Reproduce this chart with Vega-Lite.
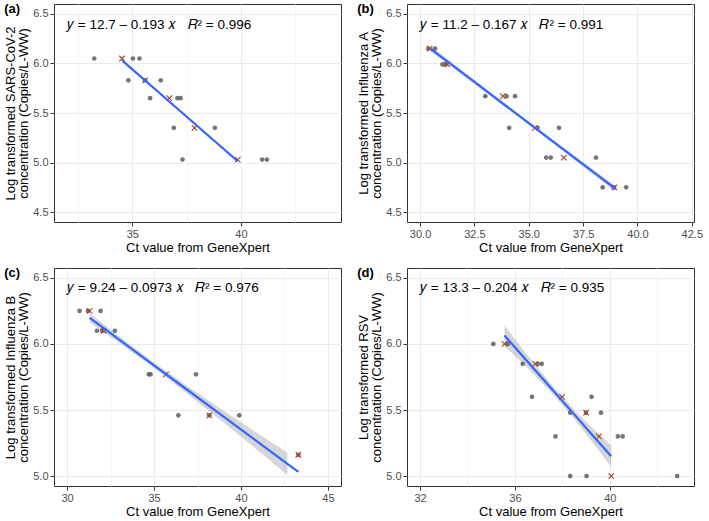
{
  "$schema": "https://vega.github.io/schema/vega-lite/v6.json",
  "background": "white",
  "padding": {"left": 3, "top": 2, "right": 0, "bottom": 0},
  "config": {
    "font": "Liberation Sans",
    "view": {"stroke": "#333333", "strokeWidth": 1},
    "axis": {
      "domain": false,
      "labelFont": "Liberation Sans",
      "labelFontSize": 11,
      "labelColor": "#4D4D4D",
      "labelPadding": 2,
      "tickColor": "#333333",
      "tickSize": 4,
      "gridColor": "#EBEBEB",
      "titleFont": "Liberation Sans",
      "titleFontSize": 13,
      "titleLineHeight": 13.5,
      "titleFontWeight": "normal",
      "titleColor": "#000000",
      "titlePadding": 2
    },
    "title": {"font": "Liberation Sans", "fontSize": 13, "fontWeight": "bold", "color": "#000000"}
  },
  "datasets": {
    "pts": [
      {"panel": "a", "type": "s", "ct": 33.25, "conc": 6.05},
      {"panel": "a", "type": "s", "ct": 35.03, "conc": 6.05},
      {"panel": "a", "type": "s", "ct": 35.33, "conc": 6.05},
      {"panel": "a", "type": "s", "ct": 34.82, "conc": 5.83},
      {"panel": "a", "type": "s", "ct": 35.59, "conc": 5.83},
      {"panel": "a", "type": "s", "ct": 36.31, "conc": 5.83},
      {"panel": "a", "type": "s", "ct": 35.82, "conc": 5.65},
      {"panel": "a", "type": "s", "ct": 37.08, "conc": 5.65},
      {"panel": "a", "type": "s", "ct": 37.22, "conc": 5.65},
      {"panel": "a", "type": "s", "ct": 36.91, "conc": 5.35},
      {"panel": "a", "type": "s", "ct": 38.8, "conc": 5.35},
      {"panel": "a", "type": "s", "ct": 37.31, "conc": 5.03},
      {"panel": "a", "type": "s", "ct": 40.97, "conc": 5.03},
      {"panel": "a", "type": "s", "ct": 41.19, "conc": 5.03},
      {"panel": "a", "type": "m", "ct": 34.53, "conc": 6.05},
      {"panel": "a", "type": "m", "ct": 35.59, "conc": 5.83},
      {"panel": "a", "type": "m", "ct": 36.7, "conc": 5.65},
      {"panel": "a", "type": "m", "ct": 37.86, "conc": 5.35},
      {"panel": "a", "type": "m", "ct": 39.85, "conc": 5.03},
      {"panel": "b", "type": "s", "ct": 30.38, "conc": 6.15},
      {"panel": "b", "type": "s", "ct": 30.69, "conc": 6.15},
      {"panel": "b", "type": "s", "ct": 31.03, "conc": 5.99},
      {"panel": "b", "type": "s", "ct": 31.18, "conc": 5.99},
      {"panel": "b", "type": "s", "ct": 33.0, "conc": 5.67},
      {"panel": "b", "type": "s", "ct": 33.98, "conc": 5.67},
      {"panel": "b", "type": "s", "ct": 34.37, "conc": 5.67},
      {"panel": "b", "type": "s", "ct": 34.1, "conc": 5.35},
      {"panel": "b", "type": "s", "ct": 35.41, "conc": 5.35},
      {"panel": "b", "type": "s", "ct": 36.39, "conc": 5.35},
      {"panel": "b", "type": "s", "ct": 35.8, "conc": 5.05},
      {"panel": "b", "type": "s", "ct": 36.01, "conc": 5.05},
      {"panel": "b", "type": "s", "ct": 38.09, "conc": 5.05},
      {"panel": "b", "type": "s", "ct": 38.4, "conc": 4.75},
      {"panel": "b", "type": "s", "ct": 38.92, "conc": 4.75},
      {"panel": "b", "type": "s", "ct": 39.48, "conc": 4.75},
      {"panel": "b", "type": "m", "ct": 30.44, "conc": 6.15},
      {"panel": "b", "type": "m", "ct": 31.25, "conc": 5.99},
      {"panel": "b", "type": "m", "ct": 33.81, "conc": 5.67},
      {"panel": "b", "type": "m", "ct": 35.28, "conc": 5.35},
      {"panel": "b", "type": "m", "ct": 36.61, "conc": 5.05},
      {"panel": "b", "type": "m", "ct": 38.94, "conc": 4.75},
      {"panel": "c", "type": "s", "ct": 30.72, "conc": 6.25},
      {"panel": "c", "type": "s", "ct": 31.2, "conc": 6.25},
      {"panel": "c", "type": "s", "ct": 31.93, "conc": 6.25},
      {"panel": "c", "type": "s", "ct": 31.72, "conc": 6.1},
      {"panel": "c", "type": "s", "ct": 32.02, "conc": 6.1},
      {"panel": "c", "type": "s", "ct": 32.75, "conc": 6.1},
      {"panel": "c", "type": "s", "ct": 34.7, "conc": 5.77},
      {"panel": "c", "type": "s", "ct": 34.8, "conc": 5.77},
      {"panel": "c", "type": "s", "ct": 37.41, "conc": 5.77},
      {"panel": "c", "type": "s", "ct": 36.4, "conc": 5.46},
      {"panel": "c", "type": "s", "ct": 38.18, "conc": 5.46},
      {"panel": "c", "type": "s", "ct": 39.9, "conc": 5.46},
      {"panel": "c", "type": "s", "ct": 43.3, "conc": 5.16},
      {"panel": "c", "type": "m", "ct": 31.3, "conc": 6.25},
      {"panel": "c", "type": "m", "ct": 32.1, "conc": 6.1},
      {"panel": "c", "type": "m", "ct": 35.69, "conc": 5.77},
      {"panel": "c", "type": "m", "ct": 38.18, "conc": 5.46},
      {"panel": "c", "type": "m", "ct": 43.3, "conc": 5.16},
      {"panel": "d", "type": "s", "ct": 35.09, "conc": 6.0},
      {"panel": "d", "type": "s", "ct": 35.7, "conc": 6.0},
      {"panel": "d", "type": "s", "ct": 36.33, "conc": 5.85},
      {"panel": "d", "type": "s", "ct": 36.96, "conc": 5.85},
      {"panel": "d", "type": "s", "ct": 37.13, "conc": 5.85},
      {"panel": "d", "type": "s", "ct": 36.72, "conc": 5.6},
      {"panel": "d", "type": "s", "ct": 39.23, "conc": 5.6},
      {"panel": "d", "type": "s", "ct": 38.33, "conc": 5.48},
      {"panel": "d", "type": "s", "ct": 39.0, "conc": 5.48},
      {"panel": "d", "type": "s", "ct": 39.63, "conc": 5.48},
      {"panel": "d", "type": "s", "ct": 37.71, "conc": 5.3},
      {"panel": "d", "type": "s", "ct": 40.34, "conc": 5.3},
      {"panel": "d", "type": "s", "ct": 40.54, "conc": 5.3},
      {"panel": "d", "type": "s", "ct": 38.33, "conc": 5.0},
      {"panel": "d", "type": "s", "ct": 39.02, "conc": 5.0},
      {"panel": "d", "type": "s", "ct": 42.84, "conc": 5.0},
      {"panel": "d", "type": "m", "ct": 35.56, "conc": 6.0},
      {"panel": "d", "type": "m", "ct": 36.86, "conc": 5.85},
      {"panel": "d", "type": "m", "ct": 37.99, "conc": 5.6},
      {"panel": "d", "type": "m", "ct": 39.0, "conc": 5.48},
      {"panel": "d", "type": "m", "ct": 39.54, "conc": 5.3},
      {"panel": "d", "type": "m", "ct": 40.06, "conc": 5.0}
    ],
    "fit": [
      {"panel": "a", "ct": 34.53, "conc": 6.031, "lo": 6.019, "hi": 6.043},
      {"panel": "a", "ct": 37.2, "conc": 5.52, "lo": 5.513, "hi": 5.527},
      {"panel": "a", "ct": 39.85, "conc": 5.013, "lo": 5.001, "hi": 5.025},
      {"panel": "b", "ct": 30.49, "conc": 6.147, "lo": 6.117, "hi": 6.177},
      {"panel": "b", "ct": 32.5, "conc": 5.813, "lo": 5.793, "hi": 5.833},
      {"panel": "b", "ct": 34.5, "conc": 5.48, "lo": 5.466, "hi": 5.494},
      {"panel": "b", "ct": 36.5, "conc": 5.148, "lo": 5.13, "hi": 5.166},
      {"panel": "b", "ct": 38.98, "conc": 4.736, "lo": 4.706, "hi": 4.766},
      {"panel": "c", "ct": 31.3, "conc": 6.198, "lo": 6.163, "hi": 6.233},
      {"panel": "c", "ct": 33.0, "conc": 6.033, "lo": 6.008, "hi": 6.058},
      {"panel": "c", "ct": 35.0, "conc": 5.838, "lo": 5.816, "hi": 5.86},
      {"panel": "c", "ct": 37.0, "conc": 5.644, "lo": 5.614, "hi": 5.674},
      {"panel": "c", "ct": 39.0, "conc": 5.45, "lo": 5.405, "hi": 5.495},
      {"panel": "c", "ct": 41.0, "conc": 5.255, "lo": 5.19, "hi": 5.32},
      {"panel": "c", "ct": 42.67, "conc": 5.093, "lo": 5.008, "hi": 5.178},
      {"panel": "c", "ct": 43.3, "conc": 5.032, "lo": null, "hi": null},
      {"panel": "d", "ct": 35.56, "conc": 6.064, "lo": 5.986, "hi": 6.142},
      {"panel": "d", "ct": 36.5, "conc": 5.873, "lo": 5.823, "hi": 5.923},
      {"panel": "d", "ct": 37.5, "conc": 5.67, "lo": 5.638, "hi": 5.702},
      {"panel": "d", "ct": 38.5, "conc": 5.467, "lo": 5.432, "hi": 5.502},
      {"panel": "d", "ct": 39.3, "conc": 5.304, "lo": 5.249, "hi": 5.359},
      {"panel": "d", "ct": 40.06, "conc": 5.15, "lo": 5.068, "hi": 5.232}
    ],
    "eqs": [
      {"panel": "a", "eq": "𝑦 = 12.7 – 0.193 𝑥\u00a0\u00a0\u00a0𝑅² = 0.996"},
      {"panel": "b", "eq": "𝑦 = 11.2 – 0.167 𝑥\u00a0\u00a0\u00a0𝑅² = 0.991"},
      {"panel": "c", "eq": "𝑦 = 9.24 – 0.0973 𝑥\u00a0\u00a0\u00a0𝑅² = 0.976"},
      {"panel": "d", "eq": "𝑦 = 13.3 – 0.204 𝑥\u00a0\u00a0\u00a0𝑅² = 0.935"}
    ]
  },
  "columns": 2,
  "spacing": {"row": 46, "column": 66},
  "bounds": "flush",
  "concat": [
    {
      "title": {"text": "(a)", "anchor": "start", "frame": "bounds", "baseline": "top", "offset": 0, "dx": 0, "dy": 12},
      "width": 287, "height": 218,
      "layer": [
        {
          "encoding": {
            "x": {"field": "ct", "type": "quantitative", "title": "Ct value from GeneXpert",
              "scale": {"domain": [31.4, 44.6], "nice": false, "zero": false},
              "axis": {"values": [32.5, 35, 37.5, 40, 42.5],
                "labelExpr": "datum.value % 5 != 0 ? '' : format(datum.value, 'd')",
                "gridColor": {"condition": {"test": "datum.value % 5 != 0", "value": "#F4F4F4"}, "value": "#EBEBEB"},
                "tickOpacity": {"condition": {"test": "datum.value % 5 != 0", "value": 0}, "value": 1}}},
            "y": {"field": "conc", "type": "quantitative", "title": ["Log transformed SARS-CoV-2", "concentration (Copies/L-WW)"],
              "scale": {"domain": [4.4, 6.6], "nice": false, "zero": false},
              "axis": {"values": [4.5, 4.75, 5, 5.25, 5.5, 5.75, 6, 6.25, 6.5],
                "labelExpr": "(datum.value * 4) % 2 == 1 ? '' : format(datum.value, '.1f')",
                "gridColor": {"condition": {"test": "(datum.value * 4) % 2 == 1", "value": "#F4F4F4"}, "value": "#EBEBEB"},
                "tickOpacity": {"condition": {"test": "(datum.value * 4) % 2 == 1", "value": 0}, "value": 1}}}
          },
          "layer": [
            {"data": {"name": "fit"}, "transform": [{"filter": "datum.panel == 'a'"}],
              "mark": {"type": "area", "color": "#999999", "opacity": 0.4},
              "encoding": {"y": {"field": "lo", "type": "quantitative", "title": ["Log transformed SARS-CoV-2", "concentration (Copies/L-WW)"]}, "y2": {"field": "hi"}}},
            {"data": {"name": "pts"}, "transform": [{"filter": "datum.panel == 'a' && datum.type == 's'"}],
              "mark": {"type": "point", "filled": true, "color": "#5E5E5E", "size": 22, "opacity": 0.85}},
            {"data": {"name": "pts"}, "transform": [{"filter": "datum.panel == 'a' && datum.type == 'm'"}],
              "mark": {"type": "point", "shape": "M-1,-1L1,1M-1,1L1,-1", "filled": false, "color": "#A8432B", "strokeWidth": 1.1, "size": 30, "opacity": 1}},
            {"data": {"name": "fit"}, "transform": [{"filter": "datum.panel == 'a'"}],
              "mark": {"type": "line", "color": "#3366FF", "strokeWidth": 2.2}}
          ]
        },
        {"data": {"name": "eqs"}, "transform": [{"filter": "datum.panel == 'a'"}],
          "mark": {"type": "text", "align": "left", "baseline": "middle", "fontSize": 13.5, "font": "Liberation Sans", "color": "#000000"},
          "encoding": {"x": {"datum": 32, "type": "quantitative"}, "y": {"datum": 6.39, "type": "quantitative"}, "text": {"field": "eq", "type": "nominal"}}}
      ]
    },
    {
      "title": {"text": "(b)", "anchor": "start", "frame": "bounds", "baseline": "top", "offset": 0, "dx": 0, "dy": 12},
      "width": 287, "height": 218,
      "layer": [
        {
          "encoding": {
            "x": {"field": "ct", "type": "quantitative", "title": "Ct value from GeneXpert",
              "scale": {"domain": [29.4, 42.6], "nice": false, "zero": false},
              "axis": {"values": [30, 31.25, 32.5, 33.75, 35, 36.25, 37.5, 38.75, 40, 41.25, 42.5],
                "labelExpr": "(datum.value * 4) % 10 != 0 ? '' : format(datum.value, '.1f')",
                "gridColor": {"condition": {"test": "(datum.value * 4) % 10 != 0", "value": "#F4F4F4"}, "value": "#EBEBEB"},
                "tickOpacity": {"condition": {"test": "(datum.value * 4) % 10 != 0", "value": 0}, "value": 1}}},
            "y": {"field": "conc", "type": "quantitative", "title": ["Log transformed Influenza A", "concentration (Copies/L-WW)"],
              "scale": {"domain": [4.4, 6.6], "nice": false, "zero": false},
              "axis": {"values": [4.5, 4.75, 5, 5.25, 5.5, 5.75, 6, 6.25, 6.5],
                "labelExpr": "(datum.value * 4) % 2 == 1 ? '' : format(datum.value, '.1f')",
                "gridColor": {"condition": {"test": "(datum.value * 4) % 2 == 1", "value": "#F4F4F4"}, "value": "#EBEBEB"},
                "tickOpacity": {"condition": {"test": "(datum.value * 4) % 2 == 1", "value": 0}, "value": 1}}}
          },
          "layer": [
            {"data": {"name": "fit"}, "transform": [{"filter": "datum.panel == 'b'"}],
              "mark": {"type": "area", "color": "#999999", "opacity": 0.4},
              "encoding": {"y": {"field": "lo", "type": "quantitative", "title": ["Log transformed Influenza A", "concentration (Copies/L-WW)"]}, "y2": {"field": "hi"}}},
            {"data": {"name": "pts"}, "transform": [{"filter": "datum.panel == 'b' && datum.type == 's'"}],
              "mark": {"type": "point", "filled": true, "color": "#5E5E5E", "size": 22, "opacity": 0.85}},
            {"data": {"name": "pts"}, "transform": [{"filter": "datum.panel == 'b' && datum.type == 'm'"}],
              "mark": {"type": "point", "shape": "M-1,-1L1,1M-1,1L1,-1", "filled": false, "color": "#A8432B", "strokeWidth": 1.1, "size": 30, "opacity": 1}},
            {"data": {"name": "fit"}, "transform": [{"filter": "datum.panel == 'b'"}],
              "mark": {"type": "line", "color": "#3366FF", "strokeWidth": 2.2}}
          ]
        },
        {"data": {"name": "eqs"}, "transform": [{"filter": "datum.panel == 'b'"}],
          "mark": {"type": "text", "align": "left", "baseline": "middle", "fontSize": 13.5, "font": "Liberation Sans", "color": "#000000"},
          "encoding": {"x": {"datum": 30, "type": "quantitative"}, "y": {"datum": 6.39, "type": "quantitative"}, "text": {"field": "eq", "type": "nominal"}}}
      ]
    },
    {
      "title": {"text": "(c)", "anchor": "start", "frame": "bounds", "baseline": "top", "offset": 0, "dx": 0, "dy": 12},
      "width": 287, "height": 218,
      "layer": [
        {
          "encoding": {
            "x": {"field": "ct", "type": "quantitative", "title": "Ct value from GeneXpert",
              "scale": {"domain": [29.25, 45.75], "nice": false, "zero": false},
              "axis": {"values": [30, 32.5, 35, 37.5, 40, 42.5, 45],
                "labelExpr": "datum.value % 5 != 0 ? '' : format(datum.value, 'd')",
                "gridColor": {"condition": {"test": "datum.value % 5 != 0", "value": "#F4F4F4"}, "value": "#EBEBEB"},
                "tickOpacity": {"condition": {"test": "datum.value % 5 != 0", "value": 0}, "value": 1}}},
            "y": {"field": "conc", "type": "quantitative", "title": ["Log transformed Influenza B", "concentration (Copies/L-WW)"],
              "scale": {"domain": [4.925, 6.575], "nice": false, "zero": false},
              "axis": {"values": [5, 5.25, 5.5, 5.75, 6, 6.25, 6.5],
                "labelExpr": "(datum.value * 4) % 2 == 1 ? '' : format(datum.value, '.1f')",
                "gridColor": {"condition": {"test": "(datum.value * 4) % 2 == 1", "value": "#F4F4F4"}, "value": "#EBEBEB"},
                "tickOpacity": {"condition": {"test": "(datum.value * 4) % 2 == 1", "value": 0}, "value": 1}}}
          },
          "layer": [
            {"data": {"name": "fit"}, "transform": [{"filter": "datum.panel == 'c'"}],
              "mark": {"type": "area", "color": "#999999", "opacity": 0.4},
              "encoding": {"y": {"field": "lo", "type": "quantitative", "title": ["Log transformed Influenza B", "concentration (Copies/L-WW)"]}, "y2": {"field": "hi"}}},
            {"data": {"name": "pts"}, "transform": [{"filter": "datum.panel == 'c' && datum.type == 's'"}],
              "mark": {"type": "point", "filled": true, "color": "#5E5E5E", "size": 22, "opacity": 0.85}},
            {"data": {"name": "pts"}, "transform": [{"filter": "datum.panel == 'c' && datum.type == 'm'"}],
              "mark": {"type": "point", "shape": "M-1,-1L1,1M-1,1L1,-1", "filled": false, "color": "#A8432B", "strokeWidth": 1.1, "size": 30, "opacity": 1}},
            {"data": {"name": "fit"}, "transform": [{"filter": "datum.panel == 'c'"}],
              "mark": {"type": "line", "color": "#3366FF", "strokeWidth": 2.2}}
          ]
        },
        {"data": {"name": "eqs"}, "transform": [{"filter": "datum.panel == 'c'"}],
          "mark": {"type": "text", "align": "left", "baseline": "middle", "fontSize": 13.5, "font": "Liberation Sans", "color": "#000000"},
          "encoding": {"x": {"datum": 30, "type": "quantitative"}, "y": {"datum": 6.42, "type": "quantitative"}, "text": {"field": "eq", "type": "nominal"}}}
      ]
    },
    {
      "title": {"text": "(d)", "anchor": "start", "frame": "bounds", "baseline": "top", "offset": 0, "dx": 0, "dy": 12},
      "width": 287, "height": 218,
      "layer": [
        {
          "encoding": {
            "x": {"field": "ct", "type": "quantitative", "title": "Ct value from GeneXpert",
              "scale": {"domain": [31.45, 43.55], "nice": false, "zero": false},
              "axis": {"values": [32, 34, 36, 38, 40, 42],
                "labelExpr": "datum.value % 4 != 0 ? '' : format(datum.value, 'd')",
                "gridColor": {"condition": {"test": "datum.value % 4 != 0", "value": "#F4F4F4"}, "value": "#EBEBEB"},
                "tickOpacity": {"condition": {"test": "datum.value % 4 != 0", "value": 0}, "value": 1}}},
            "y": {"field": "conc", "type": "quantitative", "title": ["Log transformed RSV", "concentration (Copies/L-WW)"],
              "scale": {"domain": [4.925, 6.575], "nice": false, "zero": false},
              "axis": {"values": [5, 5.25, 5.5, 5.75, 6, 6.25, 6.5],
                "labelExpr": "(datum.value * 4) % 2 == 1 ? '' : format(datum.value, '.1f')",
                "gridColor": {"condition": {"test": "(datum.value * 4) % 2 == 1", "value": "#F4F4F4"}, "value": "#EBEBEB"},
                "tickOpacity": {"condition": {"test": "(datum.value * 4) % 2 == 1", "value": 0}, "value": 1}}}
          },
          "layer": [
            {"data": {"name": "fit"}, "transform": [{"filter": "datum.panel == 'd'"}],
              "mark": {"type": "area", "color": "#999999", "opacity": 0.4},
              "encoding": {"y": {"field": "lo", "type": "quantitative", "title": ["Log transformed RSV", "concentration (Copies/L-WW)"]}, "y2": {"field": "hi"}}},
            {"data": {"name": "pts"}, "transform": [{"filter": "datum.panel == 'd' && datum.type == 's'"}],
              "mark": {"type": "point", "filled": true, "color": "#5E5E5E", "size": 22, "opacity": 0.85}},
            {"data": {"name": "pts"}, "transform": [{"filter": "datum.panel == 'd' && datum.type == 'm'"}],
              "mark": {"type": "point", "shape": "M-1,-1L1,1M-1,1L1,-1", "filled": false, "color": "#A8432B", "strokeWidth": 1.1, "size": 30, "opacity": 1}},
            {"data": {"name": "fit"}, "transform": [{"filter": "datum.panel == 'd'"}],
              "mark": {"type": "line", "color": "#3366FF", "strokeWidth": 2.2}}
          ]
        },
        {"data": {"name": "eqs"}, "transform": [{"filter": "datum.panel == 'd'"}],
          "mark": {"type": "text", "align": "left", "baseline": "middle", "fontSize": 13.5, "font": "Liberation Sans", "color": "#000000"},
          "encoding": {"x": {"datum": 32, "type": "quantitative"}, "y": {"datum": 6.42, "type": "quantitative"}, "text": {"field": "eq", "type": "nominal"}}}
      ]
    }
  ]
}
